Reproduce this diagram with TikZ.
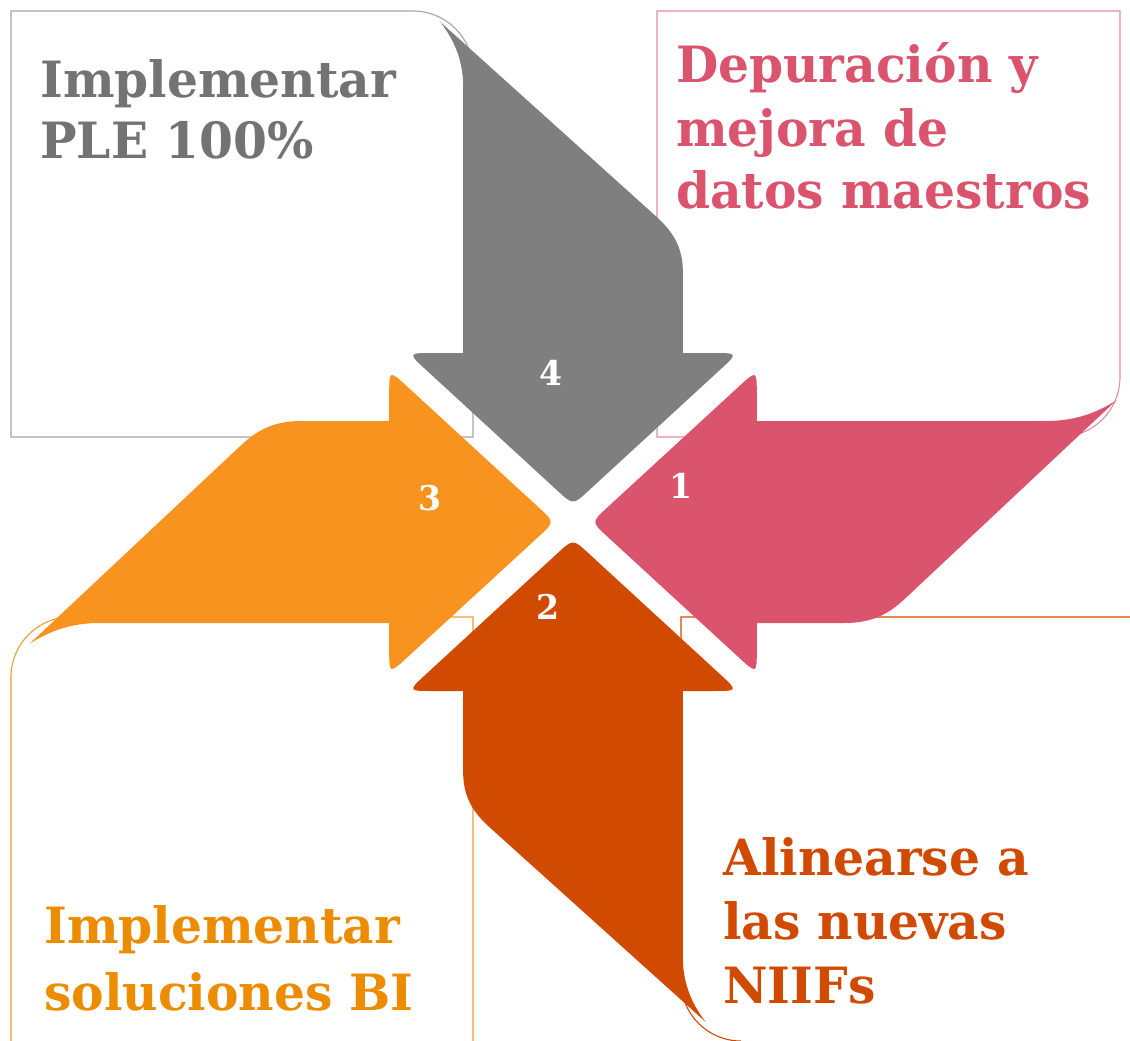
\documentclass[tikz,border=0pt]{standalone}
\usepackage{fontspec}
\setmainfont{DejaVu Serif}[FakeStretch=0.975]
\definecolor{cGray}{HTML}{7F7F7F}
\definecolor{cGrayText}{HTML}{737373}
\definecolor{cGrayLine}{HTML}{A5A5A5}
\definecolor{cPink}{HTML}{DB546E}
\definecolor{cPinkLine}{HTML}{E38C9C}
\definecolor{cRed}{HTML}{D04A02}
\definecolor{cOrange}{HTML}{F7931E}
\definecolor{cOrangeText}{HTML}{EC8C00}
\definecolor{cOrangeLine}{HTML}{EE9A35}
\newcommand{\ArrowPath}{(-101,169) -- (-128,169) .. controls (-152,169) .. (-135,152) -- (-14.1,31.1) .. controls (0,17) .. (14.1,31.1) -- (135,152) .. controls (152,169) .. (128,169) -- (101,169) -- (101,250) .. controls (101,275) and (92,290) .. (77,305) -- (-122,500) .. controls (-108,480) and (-101,460) .. (-101,435) -- cycle}
\tikzset{
  boxline/.style={line width=1.1pt},
  lbl/.style={anchor=base west, inner sep=0pt, font=\fontsize{50}{60}\selectfont\bfseries},
  num/.style={text=white, inner sep=0pt, font=\fontsize{34}{40}\selectfont\bfseries},
}
\begin{document}
\begin{tikzpicture}[x=1pt,y=1pt]
\useasboundingbox (0,0) rectangle (1130,-1041);
% boxes
\draw[boxline, cGrayLine] (11,-437) -- (11,-11) -- (413,-11) arc (90:0:60) -- (473,-437) -- cycle;
\draw[boxline, cPinkLine] (657,-11) -- (1120,-11) -- (1120,-377) arc (0:-90:60) -- (657,-437) -- cycle;
\draw[boxline, cRed] (1130,-617) -- (681,-617) -- (681,-981) arc (180:270:60);
\draw[boxline, cOrangeLine] (473,-1041) -- (473,-617) -- (71,-617) arc (90:180:60) -- (11,-1041);
% arrows
\begin{scope}[shift={(573,-522)}, xscale=1.0875]
  \fill[cGray] \ArrowPath;
  \fill[cPink, rotate=-90] \ArrowPath;
  \fill[cRed, rotate=180] \ArrowPath;
  \fill[cOrange, rotate=90] \ArrowPath;
\end{scope}
% numbers
\node[num] (n4) at (551,-373) {4};
\node[num] (n1) at (681,-486) {1};
\node[num] (n2) at (548,-607) {2};
\node[num] (n3) at (430,-498) {3};
% texts
\node[lbl, text=cGrayText] (ta) at (40,-97) {Implementar};
\node[lbl, text=cGrayText] (tb) at (40,-158) {PLE 100\%};
\node[lbl, text=cPink] (pa) at (676,-82) {Depuración y};
\node[lbl, text=cPink] (pb) at (676,-146) {mejora de};
\node[lbl, text=cPink] (pc) at (676,-208) {datos maestros};
\node[lbl, text=cRed] (ra) at (723,-875) {Alinearse a};
\node[lbl, text=cRed] (rb) at (723,-939) {las nuevas};
\node[lbl, text=cRed] (rc) at (723,-1003) {NIIFs};
\node[lbl, text=cOrangeText] (oa) at (44,-943) {Implementar};
\node[lbl, text=cOrangeText] (ob) at (44,-1010) {soluciones BI};
\end{tikzpicture}
\end{document}
